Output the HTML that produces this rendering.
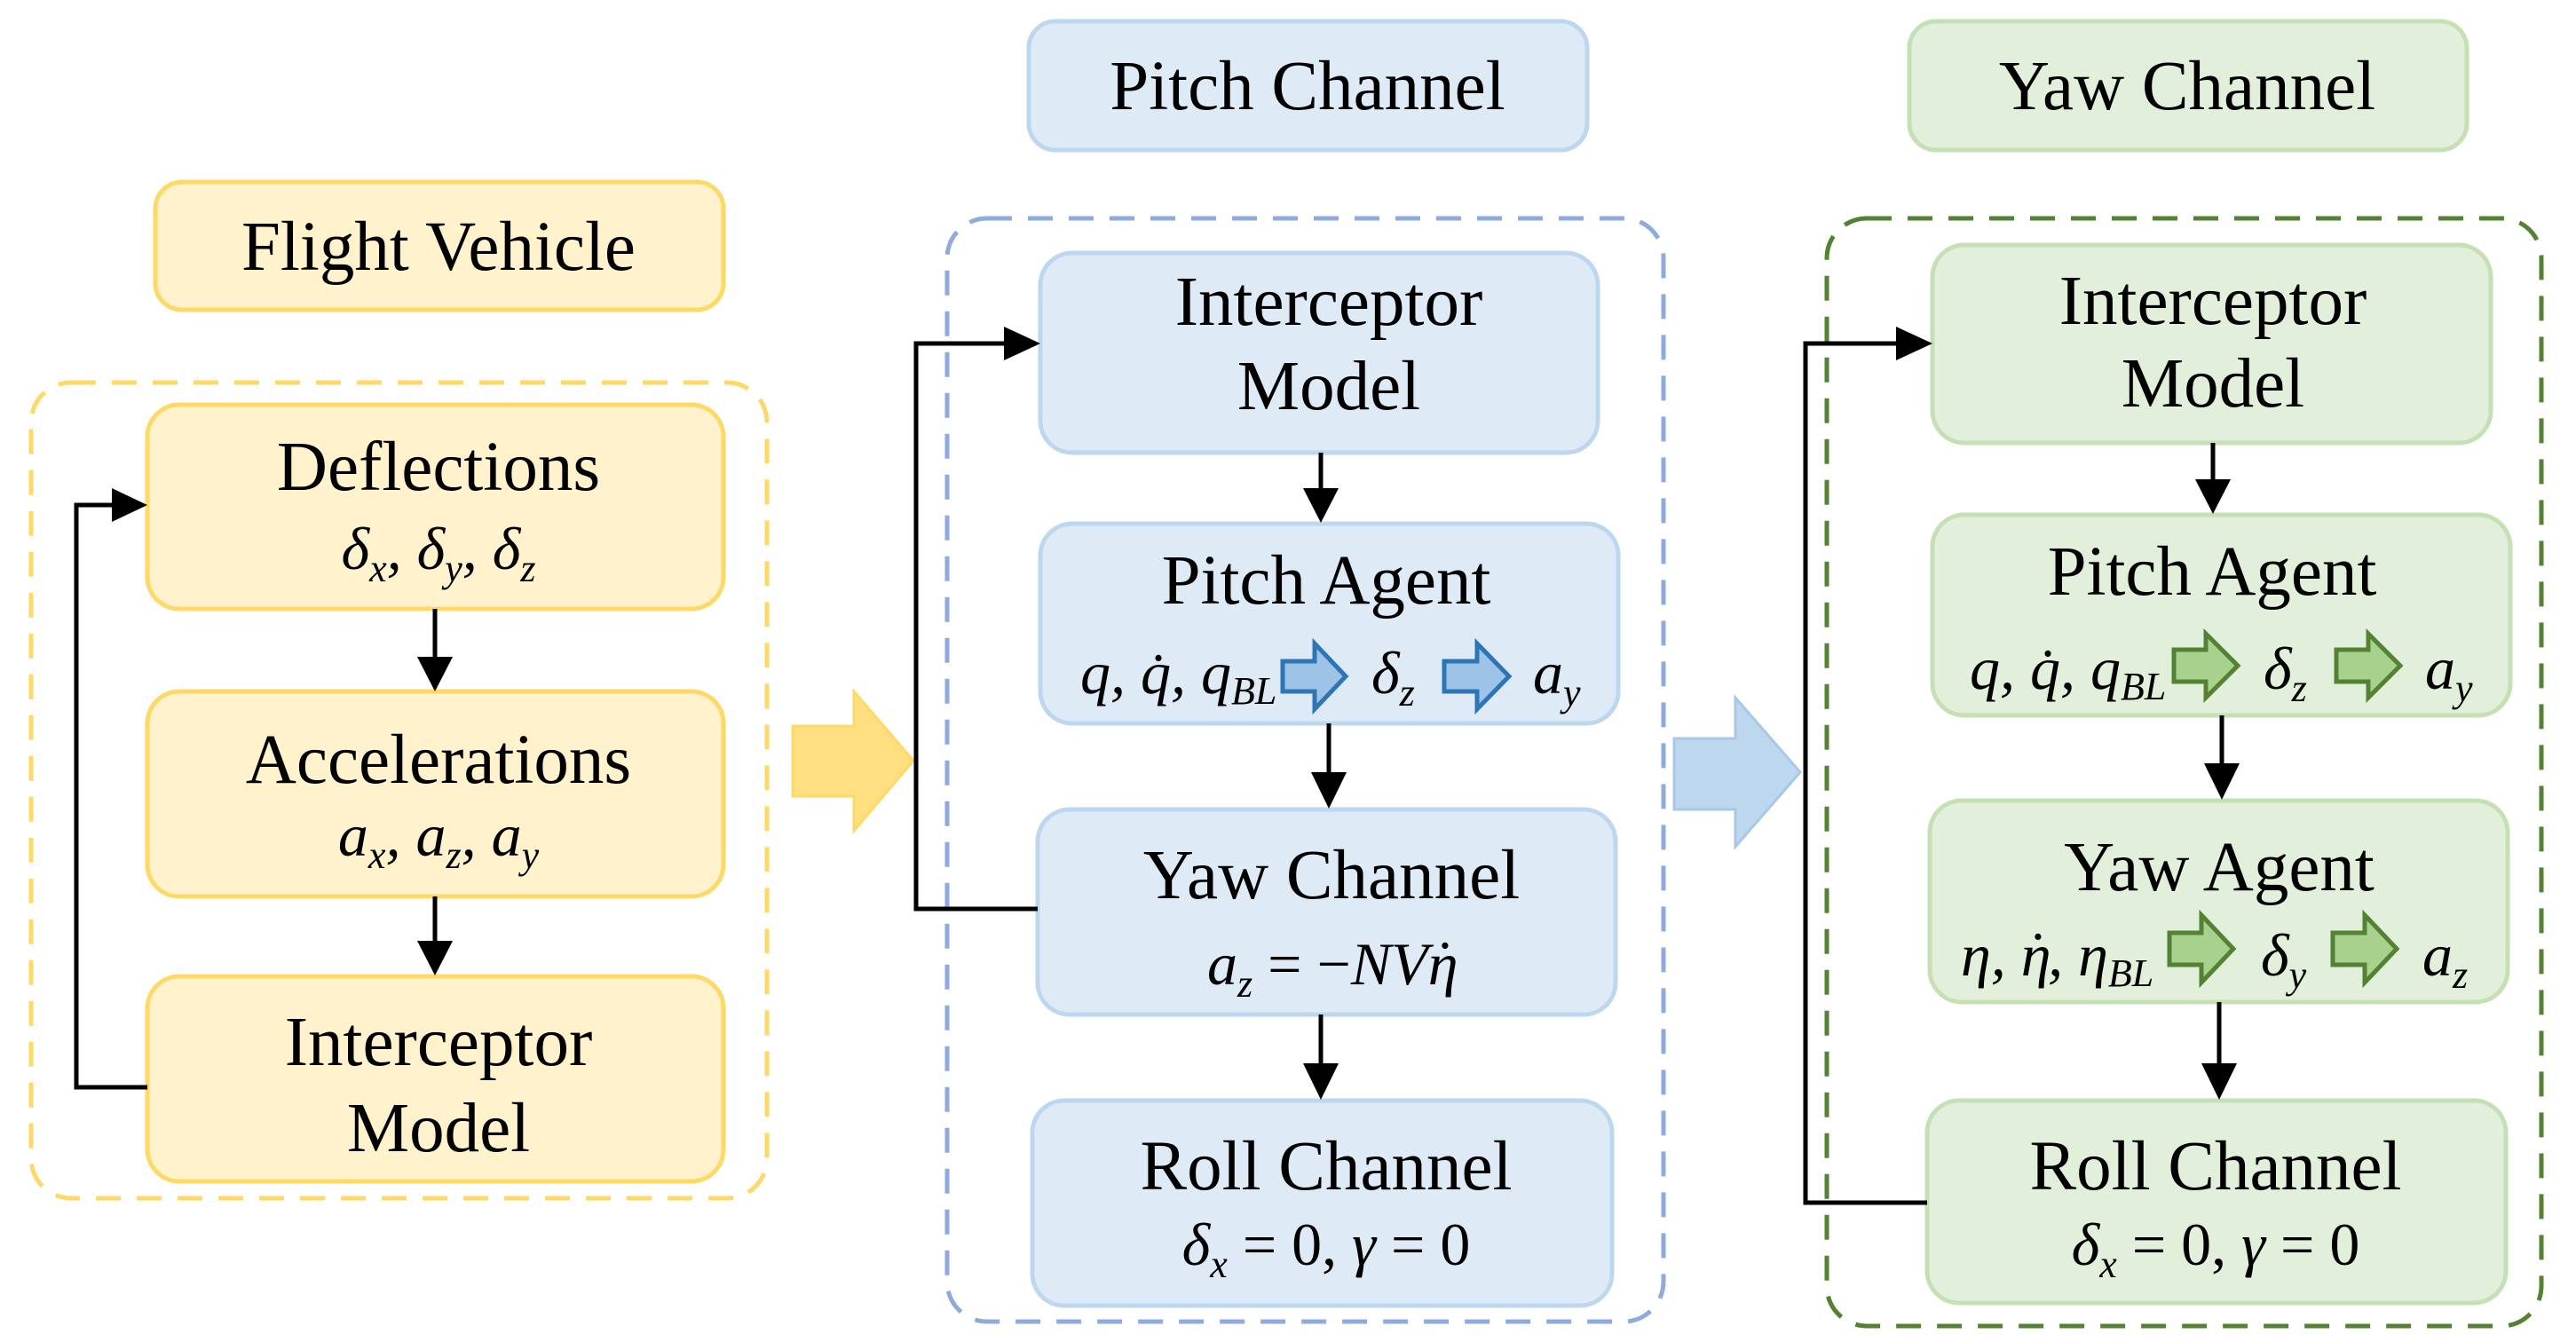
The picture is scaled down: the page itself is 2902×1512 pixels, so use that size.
<!DOCTYPE html>
<html><head><meta charset="utf-8"><style>
html,body{margin:0;padding:0;background:#fff;}
svg{display:block;}
.t{font-family:"Liberation Serif",serif;font-size:79px;fill:#000;text-anchor:middle;}
.m{font-family:"Liberation Serif",serif;font-size:68px;font-style:italic;fill:#000;}
.s{font-size:44px;}
</style></head><body>
<svg width="2902" height="1512" viewBox="0 0 2902 1512" xmlns="http://www.w3.org/2000/svg">

<!-- ===== Yellow section ===== -->
<rect x="175" y="205" width="640" height="144" rx="30" fill="#fff2cc" stroke="#ffd966" stroke-width="5"/>
<text class="t" x="494" y="304">Flight Vehicle</text>
<rect x="35" y="431" width="829" height="919" rx="45" fill="none" stroke="#ffd966" stroke-width="5" stroke-dasharray="28,18"/>
<rect x="166" y="456" width="649" height="230" rx="36" fill="#fff2cc" stroke="#ffd966" stroke-width="5"/>
<text class="t" x="494" y="552">Deflections</text>
<text class="m" x="494" y="641" text-anchor="middle">δ<tspan class="s" dy="14">x</tspan><tspan dy="-14">, δ</tspan><tspan class="s" dy="14">y</tspan><tspan dy="-14">, δ</tspan><tspan class="s" dy="14">z</tspan></text>
<rect x="166" y="779" width="649" height="231" rx="36" fill="#fff2cc" stroke="#ffd966" stroke-width="5"/>
<text class="t" x="494" y="882">Accelerations</text>
<text class="m" x="494" y="964" text-anchor="middle">a<tspan class="s" dy="14">x</tspan><tspan dy="-14">, a</tspan><tspan class="s" dy="14">z</tspan><tspan dy="-14">, a</tspan><tspan class="s" dy="14">y</tspan></text>
<rect x="166" y="1100" width="649" height="231" rx="36" fill="#fff2cc" stroke="#ffd966" stroke-width="5"/>
<text class="t" x="494" y="1200">Interceptor</text>
<text class="t" x="494" y="1297">Model</text>
<line x1="490" y1="686" x2="490" y2="745" stroke="#000" stroke-width="5"/>
<polygon points="470,740 510,740 490,779" fill="#000"/>
<line x1="490" y1="1010" x2="490" y2="1065" stroke="#000" stroke-width="5"/>
<polygon points="470,1060 510,1060 490,1099" fill="#000"/>
<polyline points="166,1225 86,1225 86,569 130,569" fill="none" stroke="#000" stroke-width="5"/>
<polygon points="126,550 126,588 166,569" fill="#000"/>
<polygon points="893,818 962,818 962,779 1029,857 962,936 962,897 893,897" fill="#ffdf80" stroke="#ffd966" stroke-width="3"/>

<!-- ===== Blue section ===== -->
<rect x="1159" y="24" width="629" height="145" rx="30" fill="#deebf7" stroke="#bdd7ee" stroke-width="5"/>
<text class="t" x="1473" y="123">Pitch Channel</text>
<rect x="1067" y="246" width="807" height="1243" rx="45" fill="none" stroke="#8faadc" stroke-width="5" stroke-dasharray="28,18"/>
<rect x="1172" y="285" width="628" height="225" rx="36" fill="#deebf7" stroke="#bdd7ee" stroke-width="5"/>
<text class="t" x="1497" y="366">Interceptor</text>
<text class="t" x="1497" y="461">Model</text>
<rect x="1172" y="590" width="651" height="225" rx="36" fill="#deebf7" stroke="#bdd7ee" stroke-width="5"/>
<text class="t" x="1494" y="680">Pitch Agent</text>
<text class="m" x="1217" y="781">q, q̇, q<tspan class="s" dy="12">BL</tspan></text>
<polygon points="1445,745 1481,745 1481,725 1516,762 1481,799 1481,779 1445,779" fill="#9dc3e6" stroke="#2e75b6" stroke-width="5"/>
<text class="m" x="1545" y="781">δ<tspan class="s" dy="14">z</tspan></text>
<polygon points="1627,745 1664,745 1664,725 1700,762 1664,799 1664,779 1627,779" fill="#9dc3e6" stroke="#2e75b6" stroke-width="5"/>
<text class="m" x="1727" y="781">a<tspan class="s" dy="14">y</tspan></text>
<rect x="1169" y="912" width="651" height="231" rx="36" fill="#deebf7" stroke="#bdd7ee" stroke-width="5"/>
<text class="t" x="1500" y="1012">Yaw Channel</text>
<text class="m" x="1360" y="1109">a<tspan class="s" dy="14">z</tspan><tspan dy="-14" font-style="normal"> = −</tspan>NVη<tspan dx="-26" dy="-2" font-style="normal">˙</tspan></text>
<rect x="1163" y="1240" width="653" height="231" rx="36" fill="#deebf7" stroke="#bdd7ee" stroke-width="5"/>
<text class="t" x="1494" y="1340">Roll Channel</text>
<text class="m" x="1494" y="1425" text-anchor="middle">δ<tspan class="s" dy="14">x</tspan><tspan dy="-14" font-style="normal"> = 0, </tspan>γ<tspan font-style="normal"> = 0</tspan></text>
<line x1="1488" y1="510" x2="1488" y2="555" stroke="#000" stroke-width="5"/>
<polygon points="1468,550 1508,550 1488,589" fill="#000"/>
<line x1="1497" y1="815" x2="1497" y2="875" stroke="#000" stroke-width="5"/>
<polygon points="1477,870 1517,870 1497,911" fill="#000"/>
<line x1="1488" y1="1143" x2="1488" y2="1203" stroke="#000" stroke-width="5"/>
<polygon points="1468,1198 1508,1198 1488,1239" fill="#000"/>
<polyline points="1169,1024 1032,1024 1032,387 1135,387" fill="none" stroke="#000" stroke-width="5"/>
<polygon points="1131,368 1131,406 1172,387" fill="#000"/>
<polygon points="1886,832 1955,832 1955,786 2028,870 1955,954 1955,912 1886,912" fill="#bdd7ee" stroke="#a9c8e8" stroke-width="3"/>

<!-- ===== Green section ===== -->
<rect x="2151" y="24" width="628" height="145" rx="30" fill="#e2efda" stroke="#c5e0b4" stroke-width="5"/>
<text class="t" x="2464" y="123">Yaw Channel</text>
<rect x="2058" y="246" width="805" height="1248" rx="45" fill="none" stroke="#548235" stroke-width="5" stroke-dasharray="28,18"/>
<rect x="2177" y="276" width="629" height="223" rx="36" fill="#e2efda" stroke="#c5e0b4" stroke-width="5"/>
<text class="t" x="2493" y="365">Interceptor</text>
<text class="t" x="2493" y="458">Model</text>
<rect x="2177" y="580" width="651" height="226" rx="36" fill="#e2efda" stroke="#c5e0b4" stroke-width="5"/>
<text class="t" x="2492" y="670">Pitch Agent</text>
<text class="m" x="2219" y="776">q, q̇, q<tspan class="s" dy="12">BL</tspan></text>
<polygon points="2449,732 2485,732 2485,714 2521,750 2485,786 2485,768 2449,768" fill="#a9d18e" stroke="#548235" stroke-width="5"/>
<text class="m" x="2550" y="776">δ<tspan class="s" dy="14">z</tspan></text>
<polygon points="2632,732 2668,732 2668,714 2704,750 2668,786 2668,768 2632,768" fill="#a9d18e" stroke="#548235" stroke-width="5"/>
<text class="m" x="2732" y="776">a<tspan class="s" dy="14">y</tspan></text>
<rect x="2174" y="902" width="651" height="227" rx="36" fill="#e2efda" stroke="#c5e0b4" stroke-width="5"/>
<text class="t" x="2500" y="1003">Yaw Agent</text>
<text class="m" x="2209" y="1099">η, η<tspan dx="-26" dy="-2" font-style="normal">˙</tspan><tspan dx="0" dy="2">, η</tspan><tspan class="s" dy="12">BL</tspan></text>
<polygon points="2444,1051 2480,1051 2480,1031 2516,1069 2480,1107 2480,1087 2444,1087" fill="#a9d18e" stroke="#548235" stroke-width="5"/>
<text class="m" x="2547" y="1099">δ<tspan class="s" dy="14">y</tspan></text>
<polygon points="2628,1051 2664,1051 2664,1031 2700,1069 2664,1107 2664,1087 2628,1087" fill="#a9d18e" stroke="#548235" stroke-width="5"/>
<text class="m" x="2729" y="1099">a<tspan class="s" dy="14">z</tspan></text>
<rect x="2171" y="1240" width="652" height="228" rx="36" fill="#e2efda" stroke="#c5e0b4" stroke-width="5"/>
<text class="t" x="2496" y="1340">Roll Channel</text>
<text class="m" x="2496" y="1425" text-anchor="middle">δ<tspan class="s" dy="14">x</tspan><tspan dy="-14" font-style="normal"> = 0, </tspan>γ<tspan font-style="normal"> = 0</tspan></text>
<line x1="2493" y1="499" x2="2493" y2="545" stroke="#000" stroke-width="5"/>
<polygon points="2473,540 2513,540 2493,579" fill="#000"/>
<line x1="2503" y1="806" x2="2503" y2="865" stroke="#000" stroke-width="5"/>
<polygon points="2483,860 2523,860 2503,901" fill="#000"/>
<line x1="2500" y1="1129" x2="2500" y2="1203" stroke="#000" stroke-width="5"/>
<polygon points="2480,1198 2520,1198 2500,1239" fill="#000"/>
<polyline points="2171,1355 2034,1355 2034,387 2140,387" fill="none" stroke="#000" stroke-width="5"/>
<polygon points="2136,368 2136,406 2177,387" fill="#000"/>
</svg>
</body></html>
